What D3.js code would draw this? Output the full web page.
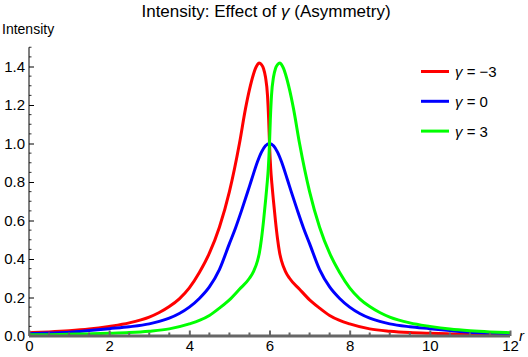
<!DOCTYPE html>
<html>
<head>
<meta charset="utf-8">
<script src="https://cdn.jsdelivr.net/npm/d3@7/dist/d3.min.js"></script>
<style>
  html, body { margin: 0; padding: 0; background: #ffffff; }
  svg { display: block; font-family: "Liberation Sans", Arial, sans-serif; }
</style>
</head>
<body>
<svg id="chart" width="528" height="357"></svg>
<script>
// ---- data ----
const seriesNames = ["γ = −3", "γ = 0", "γ = 3"];
const seriesColors = ["#ff0000", "#0000ff", "#00ff00"];

const redX = [0,0.5,1,1.5,2,2.5,3,3.25,3.5,3.75,4,4.25,4.5,4.75,5,5.25,5.4,5.5,5.6,5.65,5.7,5.74,5.8,5.85,5.9,5.95,5.98,6.0,6.03,6.06,6.1,6.15,6.2,6.25,6.3,6.4,6.5,6.75,7,7.25,7.5,7.75,8,8.5,9,9.5,10,10.5,11,11.5,12];
const redY = [0.017,0.021,0.027,0.036,0.05,0.068,0.098,0.122,0.153,0.193,0.25,0.33,0.43,0.565,0.75,1.0,1.18,1.28,1.36,1.39,1.41,1.418,1.41,1.39,1.345,1.25,1.12,1.0,0.87,0.79,0.70,0.595,0.505,0.435,0.39,0.335,0.30,0.243,0.188,0.145,0.107,0.081,0.063,0.037,0.025,0.018,0.014,0.011,0.009,0.007,0.006];

const blueX = [0,0.5,1,1.5,2,2.5,3,3.25,3.5,3.75,4,4.25,4.5,4.75,5,5.15,5.3,5.45,5.55,5.7,5.8,5.9,6.0,6.1,6.2,6.3,6.45,6.55,6.7,6.85,7,7.25,7.5,7.75,8,8.25,8.5,8.75,9,9.5,10,10.5,11,11.5,12];
const blueY = [0.012,0.015,0.019,0.028,0.038,0.048,0.063,0.076,0.093,0.117,0.15,0.195,0.255,0.345,0.48,0.56,0.65,0.745,0.81,0.905,0.955,0.988,1.0,0.988,0.955,0.905,0.81,0.745,0.65,0.56,0.48,0.345,0.255,0.195,0.15,0.117,0.093,0.076,0.063,0.048,0.038,0.028,0.019,0.015,0.012];

const greenX = [0,0.5,1,1.5,2,2.5,3,3.5,4,4.25,4.5,4.75,5,5.25,5.5,5.6,5.7,5.75,5.8,5.85,5.9,5.94,5.97,6.0,6.02,6.05,6.1,6.15,6.2,6.26,6.3,6.35,6.4,6.5,6.6,6.75,7,7.25,7.5,7.75,8,8.25,8.5,8.75,9,9.5,10,10.5,11,11.5,12];
const greenY = [0.006,0.007,0.009,0.011,0.014,0.018,0.025,0.037,0.063,0.081,0.107,0.145,0.188,0.243,0.30,0.335,0.39,0.435,0.505,0.595,0.70,0.79,0.87,1.0,1.12,1.25,1.345,1.39,1.41,1.418,1.41,1.39,1.36,1.28,1.18,1.0,0.75,0.565,0.43,0.33,0.25,0.193,0.153,0.122,0.098,0.068,0.05,0.036,0.027,0.021,0.017];

const xTickValues = [0,2,4,6,8,10,12];
const xTickLabels = ["0","2","4","6","8","10","12"];
const yTickValues = [0,0.2,0.4,0.6,0.8,1.0,1.2,1.4];
const yTickLabels = ["0.0","0.2","0.4","0.6","0.8","1.0","1.2","1.4"];

const titleParts = ["Intensity: Effect of ", "γ", " (Asymmetry)"];
const yAxisTitle = "Intensity";
const xAxisTitle = "r";

// ---- drawing ----
const svg = d3.select("#chart");
const x = d3.scaleLinear().domain([0, 12]).range([29, 510]);
const y = d3.scaleLinear().domain([0, 1.5]).range([336, 47.25]);

const series = [
  {name: seriesNames[0], color: seriesColors[0], pts: redX.map((v,i)=>[v, redY[i]])},
  {name: seriesNames[1], color: seriesColors[1], pts: blueX.map((v,i)=>[v, blueY[i]])},
  {name: seriesNames[2], color: seriesColors[2], pts: greenX.map((v,i)=>[v, greenY[i]])}
];

// y axis
const yMinor = d3.range(0, 1.5001, 0.05).filter(v => Math.abs(Math.round(v*5) - v*5) > 1e-6);
const yAxisG = svg.append("g").attr("transform", `translate(${x(0)},0)`);
yAxisG.append("line").attr("x1",0).attr("x2",0).attr("y1",y(0)).attr("y2",y(1.5))
  .attr("stroke","#000").attr("stroke-width",1);
yAxisG.selectAll(".ymin").data(yMinor).enter().append("line")
  .attr("x1",0).attr("x2",2.5).attr("y1",d=>y(d)).attr("y2",d=>y(d))
  .attr("stroke","#000").attr("stroke-width",0.8);
const yAxis = d3.axisLeft(y).tickValues(yTickValues)
  .tickFormat((d,i)=>yTickLabels[i]).tickSizeInner(-5).tickSizeOuter(0).tickPadding(4);
const yg = svg.append("g").attr("transform", `translate(${x(0)},0)`).call(yAxis);
yg.select(".domain").remove();
yg.selectAll(".tick line").attr("stroke","#000").attr("stroke-width",1);
yg.selectAll(".tick text").attr("font-size",15).attr("fill","#000")
  .attr("font-family","'Liberation Sans', Arial, sans-serif");

// curves
const line = d3.line().x(d=>x(d[0])).y(d=>y(d[1])).curve(d3.curveMonotoneX);
svg.append("g").selectAll("path").data(series).enter().append("path")
  .attr("d", d=>line(d.pts)).attr("fill","none")
  .attr("stroke", d=>d.color).attr("stroke-width",3).attr("stroke-linejoin","round");

// x axis (thick gray)
const xMinor = d3.range(0, 12.0001, 0.5).filter(v => v % 2 !== 0);
const xAxisG = svg.append("g").attr("transform", `translate(0,${y(0)})`);
xAxisG.append("line").attr("x1",x(0)).attr("x2",x(12)).attr("y1",0).attr("y2",0)
  .attr("stroke","#666").attr("stroke-width",3);
xAxisG.selectAll(".xmin").data(xMinor).enter().append("line")
  .attr("x1",d=>x(d)).attr("x2",d=>x(d)).attr("y1",0).attr("y2",-3.5)
  .attr("stroke","#666").attr("stroke-width",2);
const xAxis = d3.axisBottom(x).tickValues(xTickValues)
  .tickFormat((d,i)=>xTickLabels[i]).tickSizeInner(-5.5).tickSizeOuter(0).tickPadding(4);
const xg = svg.append("g").attr("transform", `translate(0,${y(0)})`).call(xAxis);
xg.select(".domain").remove();
xg.selectAll(".tick line").attr("stroke","#666").attr("stroke-width",2);
xg.selectAll(".tick text").attr("font-size",15).attr("fill","#000")
  .attr("font-family","'Liberation Sans', Arial, sans-serif");

// axis titles
svg.append("text").attr("x",2).attr("y",34).attr("font-size",14).text(yAxisTitle);
svg.append("text").attr("x",519).attr("y",341).attr("font-size",15)
  .attr("font-style","italic").text(xAxisTitle);

// title
const t = svg.append("text").attr("x",266).attr("y",17).attr("text-anchor","middle").attr("font-size",17);
t.append("tspan").text(titleParts[0]);
t.append("tspan").attr("font-style","italic").text(titleParts[1]);
t.append("tspan").text(titleParts[2]);

// legend
const lg = svg.append("g");
series.forEach((s,i)=>{
  const yy = 71.5 + i*29.8;
  lg.append("line").attr("x1",421).attr("x2",449).attr("y1",yy).attr("y2",yy)
    .attr("stroke",s.color).attr("stroke-width",3);
  const parts = s.name.split(" = ");
  const tx = lg.append("text").attr("x",455).attr("y",yy+5.5).attr("font-size",15);
  tx.append("tspan").attr("font-style","italic").text(parts[0]);
  tx.append("tspan").text(" = " + parts[1]);
});
</script>
</body>
</html>
